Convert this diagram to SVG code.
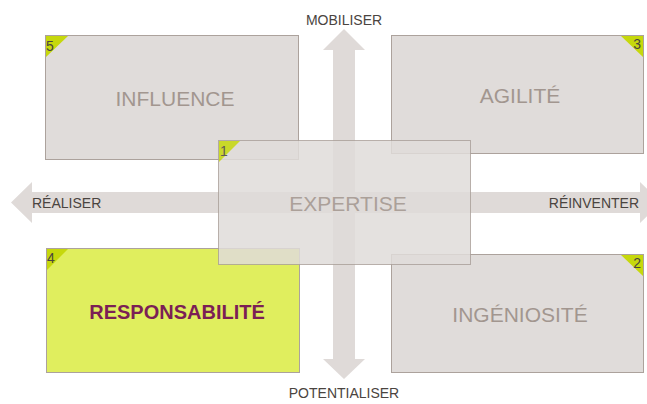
<svg xmlns="http://www.w3.org/2000/svg" width="647" height="404" viewBox="0 0 647 404">
<style>
.box{fill:#e0dcda;stroke:#aca29c;stroke-width:1}
.tri{fill:#c6d80c}
.num{font-family:"Liberation Sans",Arial,sans-serif;font-size:14px;fill:#4a4440}
.big{font-family:"Liberation Sans",Arial,sans-serif;font-size:21px;fill:#a2968f;text-anchor:middle}
.lbl{font-family:"Liberation Sans",Arial,sans-serif;font-size:14px;fill:#4a4440}
.arrow{fill:#dfdad8}
</style>
<rect width="647" height="404" fill="#ffffff"/>
<g id="connectors">
<path class="arrow" d="M333,379 L333,50 L323,50 L344,29 L365,50 L355,50 L355,359 L365,359 L344,379 L323,359 L333,359 Z"/>
<path class="arrow" d="M32,192 L640,192 L640,182 L661,202.5 L640,223 L640,213 L32,213 L32,223 L11,202.5 L32,182 Z"/>
<text class="lbl" x="344" y="25" text-anchor="middle">MOBILISER</text>
<text class="lbl" x="344" y="398" text-anchor="middle">POTENTIALISER</text>
<text class="lbl" x="32" y="208">RÉALISER</text>
<text class="lbl" x="639" y="208" text-anchor="end">RÉINVENTER</text>
</g>
<g id="influence">
<rect class="box" x="45.5" y="35.5" width="253" height="124"/>
<path class="tri" d="M46,36 L68,36 L46,57 Z"/>
<text class="num" x="46" y="51">5</text>
<text class="big" x="175" y="106">INFLUENCE</text>
</g>
<g id="agilite">
<rect class="box" x="391.5" y="35.5" width="252" height="118"/>
<path class="tri" d="M643,36 L621,36 L643,57 Z"/>
<text class="num" x="641" y="49" text-anchor="end">3</text>
<text class="big" x="520" y="103">AGILITÉ</text>
</g>
<g id="responsabilite">
<rect x="46.5" y="248.5" width="253" height="124" fill="#e0ee5e" stroke="#aca29c"/>
<path fill="#c6d80c" d="M47,249 L68,249 L47,270 Z"/>
<text class="num" x="47" y="263">4</text>
<text x="177" y="319" font-family="'Liberation Sans',Arial,sans-serif" font-size="20" font-weight="bold" fill="#7b1f55" text-anchor="middle">RESPONSABILITÉ</text>
</g>
<g id="ingeniosite">
<rect class="box" x="391.5" y="254.5" width="252" height="118"/>
<path class="tri" d="M643,255 L621,255 L643,276 Z"/>
<text class="num" x="641" y="268" text-anchor="end">2</text>
<text class="big" x="520" y="322">INGÉNIOSITÉ</text>
</g>
<g id="expertise" opacity="0.85">
<rect class="box" x="218.5" y="140.5" width="252" height="124"/>
<path class="tri" d="M219,141 L240,141 L219,162 Z"/>
<text class="num" x="220" y="156">1</text>
<text class="big" x="348" y="211">EXPERTISE</text>
</g>
</svg>
